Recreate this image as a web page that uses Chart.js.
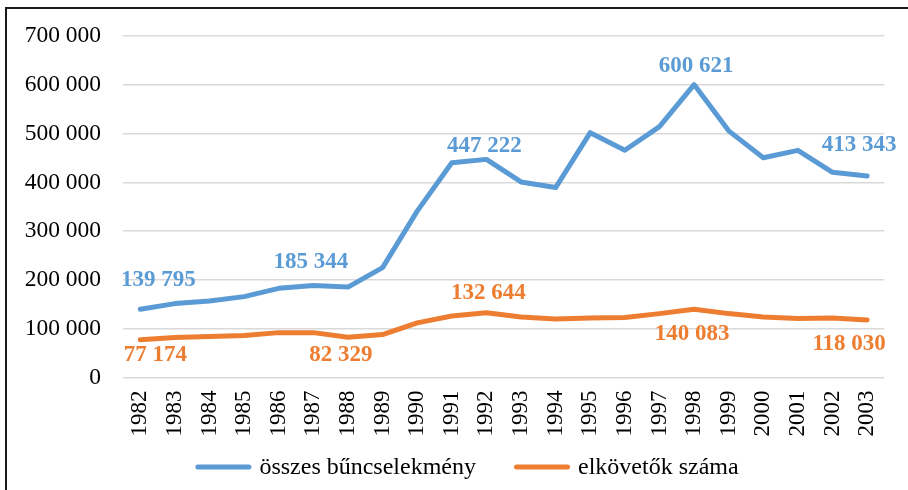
<!DOCTYPE html>
<html>
<head>
<meta charset="utf-8">
<script src="https://cdn.jsdelivr.net/npm/chart.js@4/dist/chart.umd.min.js"></script>
<style>
  html, body { margin: 0; padding: 0; background: #fff; overflow: hidden; }
  #wrap { position: relative; width: 908px; height: 490px; overflow: hidden; }
  #frame { position: absolute; left: 5px; top: 7px; width: 940px; height: 520px; border-top: 2px solid #1a1a1a; border-left: 2px solid #1a1a1a; box-sizing: border-box; }
  canvas { position: absolute; left: 0; top: 0; }
</style>
</head>
<body>
<div id="wrap">
  <div id="frame"></div>
  <canvas id="c" width="908" height="490"></canvas>
</div>
<script>
const years = ["1982","1983","1984","1985","1986","1987","1988","1989","1990","1991","1992","1993","1994","1995","1996","1997","1998","1999","2000","2001","2002","2003"];
const osszesBuncselekmeny = [139795,151505,157036,165816,182867,188397,185344,225393,341061,440370,447222,400935,389451,502036,466050,514403,600621,505716,450673,465694,420782,413343];
const elkovetokSzama = [77174,82000,84000,86000,92000,92000,82329,88000,112000,126000,132644,124000,120000,122000,123000,131000,140083,131000,124000,121000,122000,118030];
const seriesNames = ["összes bűncselekmény","elkövetők száma"];
const yTicks = [0,100000,200000,300000,400000,500000,600000,700000];

const BLUE = '#5b9bd5', ORANGE = '#ed7d31';
const FONT = "'Liberation Serif', 'Times New Roman', serif";

function fmt(v) {
  return String(Math.round(v)).replace(/\B(?=(\d{3})+(?!\d))/g, ' ');
}

const labelPlugin = {
  id: 'valueLabels',
  afterDatasetsDraw(chart, args, opts) {
    const ctx = chart.ctx;
    ctx.save();
    ctx.font = 'bold 23px ' + FONT;
    ctx.textAlign = 'center';
    ctx.textBaseline = 'middle';
    opts.items.forEach(it => {
      const ds = chart.data.datasets[it.ds];
      const pt = chart.getDatasetMeta(it.ds).data[it.i];
      ctx.fillStyle = ds.borderColor;
      ctx.fillText(fmt(ds.data[it.i]), pt.x + it.dx, pt.y + it.dy);
    });
    ctx.restore();
  }
};

// Legend drawn below the x-axis labels (line sample + label for each dataset)
const lineLegend = {
  id: 'lineLegend',
  afterDraw(chart, args, opts) {
    const ctx = chart.ctx;
    ctx.save();
    ctx.font = opts.fontSize + 'px ' + FONT;
    const items = chart.data.datasets.map(ds => ({ text: ds.label, color: ds.borderColor, w: ctx.measureText(ds.label).width }));
    let total = 0;
    items.forEach((it, k) => { total += opts.sample + opts.textGap + it.w + (k ? opts.itemGap : 0); });
    let x = opts.centerX - total / 2;
    const y = opts.y;
    ctx.textBaseline = 'middle';
    ctx.textAlign = 'left';
    items.forEach(it => {
      ctx.strokeStyle = it.color;
      ctx.lineWidth = 5;
      ctx.lineCap = 'round';
      ctx.beginPath();
      ctx.moveTo(x + 2.5, y);
      ctx.lineTo(x + opts.sample - 2.5, y);
      ctx.stroke();
      x += opts.sample + opts.textGap;
      ctx.fillStyle = '#000';
      ctx.fillText(it.text, x, y + 1);
      x += it.w + opts.itemGap;
    });
    ctx.restore();
  }
};

const chart = new Chart(document.getElementById('c'), {
  type: 'line',
  data: {
    labels: years,
    datasets: [
      { label: seriesNames[0], data: osszesBuncselekmeny, borderColor: BLUE, backgroundColor: BLUE, borderWidth: 5, pointRadius: 0, tension: 0, borderCapStyle: 'round', borderJoinStyle: 'round' },
      { label: seriesNames[1], data: elkovetokSzama, borderColor: ORANGE, backgroundColor: ORANGE, borderWidth: 5, pointRadius: 0, tension: 0, borderCapStyle: 'round', borderJoinStyle: 'round' }
    ]
  },
  options: {
    responsive: false,
    animation: false,
    devicePixelRatio: 1,
    layout: { padding: { top: 36, right: 12, bottom: 52.5, left: 0 } },
    scales: {
      x: {
        offset: true,
        grid: { display: false, drawTicks: false },
        border: { display: false },
        ticks: { color: '#000', font: { family: FONT, size: 23 }, minRotation: 90, maxRotation: 90, padding: 13, autoSkip: false },
        afterFit(scale) { scale.height = 60; }
      },
      y: {
        min: 0, max: 700000,
        afterBuildTicks(scale) { scale.ticks = yTicks.map(v => ({ value: v })); },
        grid: { color: '#d9d9d9', lineWidth: 1.5, drawTicks: false },
        border: { display: false },
        ticks: { color: '#000', font: { family: FONT, size: 23.5 }, padding: 22, callback: v => fmt(v) },
        afterFit(scale) { scale.width = 123; }
      }
    },
    plugins: {
      legend: { display: false },
      tooltip: { enabled: false },
      lineLegend: { centerX: 467, y: 467, sample: 56, textGap: 8, itemGap: 38, fontSize: 24 },
      valueLabels: {
        items: [
          { ds: 0, i: 0, dx: 18, dy: -29 },
          { ds: 0, i: 6, dx: -37, dy: -25 },
          { ds: 0, i: 10, dx: -2, dy: -13 },
          { ds: 0, i: 16, dx: 2, dy: -19 },
          { ds: 0, i: 21, dx: -8, dy: -31 },
          { ds: 1, i: 0, dx: 15, dy: 15 },
          { ds: 1, i: 6, dx: -7, dy: 18 },
          { ds: 1, i: 10, dx: 2, dy: -20 },
          { ds: 1, i: 16, dx: -2, dy: 25 },
          { ds: 1, i: 21, dx: -18, dy: 24 }
        ]
      }
    }
  },
  plugins: [labelPlugin, lineLegend]
});
</script>
</body>
</html>
